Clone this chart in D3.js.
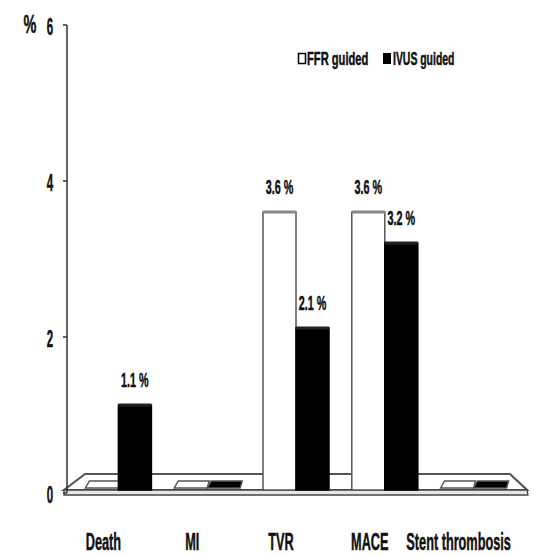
<!DOCTYPE html>
<html>
<head>
<meta charset="utf-8">
<script src="https://cdn.jsdelivr.net/npm/d3@7"></script>
<style>
  body { margin: 0; background: #fff; }
  svg { display: block; font-family: "Liberation Sans", Arial, sans-serif; font-weight: bold; }
</style>
</head>
<body>
<svg id="chart" width="551" height="556"></svg>
<script>
const categories = ["Death", "MI", "TVR", "MACE", "Stent thrombosis"];
const seriesNames = ["FFR guided", "IVUS guided"];
const ffrValues = [0, 0, 3.6, 3.6, 0];
const ivusValues = [1.1, 0, 2.1, 3.2, 0];
const yTicks = [0, 2, 4, 6];

const svg = d3.select("#chart");

// axis scale (front of the floor) and bar scale (bars stand a bit back in the floor)
const y = d3.scaleLinear().domain([0, 6]).range([493, 25]);
const yBar = d3.scaleLinear().domain([0, 6]).range([490, 26.8]);

const x0 = d3.scaleBand().domain(categories).range([74, 518]);
const x1 = d3.scaleBand().domain(seriesNames).range([-33, 33]);

// squeezed text helper, the original lettering is very narrow
function label(g, txt, x, yy, size, sx, anchor) {
  return g.append("text")
    .attr("transform", `translate(${x},${yy}) scale(${sx},1)`)
    .attr("text-anchor", anchor || "middle")
    .style("font-size", size + "px")
    .style("fill", "#111")
    .style("stroke", "#111")
    .style("stroke-width", 0.5)
    .text(txt);
}

// floor
const floor = svg.append("g");
floor.append("path")
  .attr("d", "M64,490 L85,474 L510,474 L527,490 Z")
  .attr("fill", "#fff").attr("stroke", "#555").attr("stroke-width", 2.2);
floor.append("path")
  .attr("d", "M64,490 L527,490 L528,495 L64,495 Z")
  .attr("fill", "#e6e6e6").attr("stroke", "#444").attr("stroke-width", 1.3);

// y axis
svg.append("line")
  .attr("x1", 67).attr("x2", 67)
  .attr("y1", y(6)).attr("y2", y(0))
  .attr("stroke", "#333").attr("stroke-width", 1.5);
yTicks.forEach(t => {
  svg.append("line")
    .attr("x1", 63).attr("x2", 67)
    .attr("y1", y(t)).attr("y2", y(t))
    .attr("stroke", "#333").attr("stroke-width", 1.5);
  label(svg, t, 50, y(t) + 10, 23, 0.5);
});
label(svg, "%", 30, 33, 25, 0.58);

// bars
const data = [];
categories.forEach((c, i) => {
  data.push({ cat: c, s: seriesNames[0], v: ffrValues[i] });
  data.push({ cat: c, s: seriesNames[1], v: ivusValues[i] });
});

const bars = svg.append("g");
data.forEach(d => {
  const cx = x0(d.cat) + x0.bandwidth() / 2;
  const bx = cx + x1(d.s);
  const w = x1.bandwidth();
  const fill = d.s === seriesNames[0] ? "#fff" : "#000";
  if (d.v === 0) {
    // flat bar lying on the floor
    bars.append("path")
      .attr("d", `M${bx},${yBar(0) - 2} L${bx + 4},${yBar(0) - 9} L${bx + w + 2},${yBar(0) - 9} L${bx + w},${yBar(0) - 2} Z`)
      .attr("fill", fill).attr("stroke", "#555").attr("stroke-width", 1.5);
    return;
  }
  bars.append("rect")
    .attr("x", bx).attr("y", yBar(d.v))
    .attr("width", w).attr("height", yBar(0) - yBar(d.v))
    .attr("fill", fill)
    .attr("stroke", d.s === seriesNames[0] ? "#555" : "#000")
    .attr("stroke-width", 1.5);
  bars.append("line")
    .attr("x1", bx).attr("x2", bx + w)
    .attr("y1", yBar(d.v)).attr("y2", yBar(d.v))
    .attr("stroke", d.s === seriesNames[0] ? "#888" : "#222")
    .attr("stroke-width", 3);
  label(svg, d.v.toFixed(1) + " %", bx + w / 2, yBar(d.v) - 18, 20, 0.54);
});

// category labels
categories.forEach(c => {
  label(svg, c, x0(c) + x0.bandwidth() / 2 - 15, 550, 24, 0.53);
});

// legend
const legend = svg.append("g");
legend.append("rect").attr("x", 298.5).attr("y", 53.5).attr("width", 7).attr("height", 10)
  .attr("fill", "#fff").attr("stroke", "#000").attr("stroke-width", 1.5);
label(legend, seriesNames[0], 307, 65, 18, 0.62, "start");
legend.append("rect").attr("x", 383).attr("y", 53).attr("width", 8).attr("height", 11)
  .attr("fill", "#000");
label(legend, seriesNames[1], 393, 65, 18, 0.58, "start");
</script>
</body>
</html>
